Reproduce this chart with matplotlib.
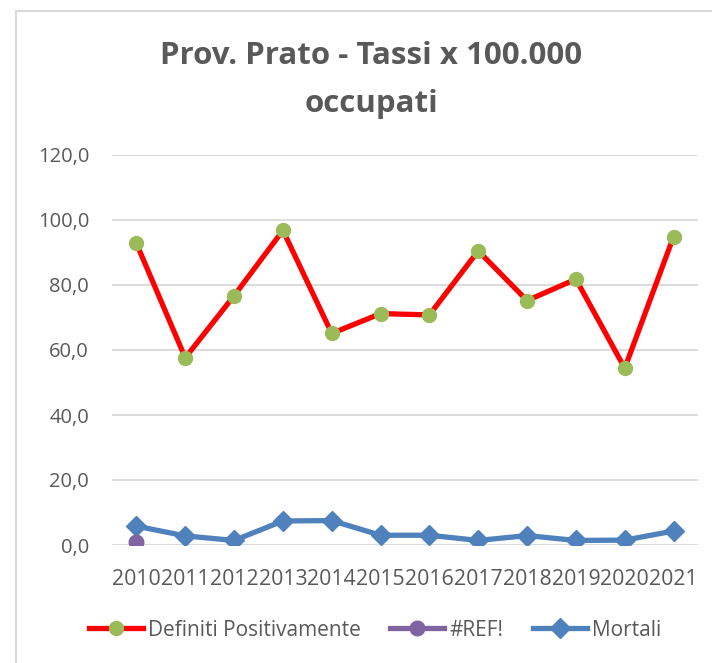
import matplotlib
matplotlib.use("Agg")
import matplotlib.pyplot as plt
from matplotlib.patches import Rectangle

# Dati
anni = ["2010", "2011", "2012", "2013", "2014", "2015", "2016", "2017", "2018", "2019", "2020", "2021"]
definiti_positivamente = [92.8, 57.6, 76.7, 96.8, 65.1, 71.2, 70.8, 90.5, 75.2, 81.8, 54.4, 94.9]
ref_err = [0.8]
mortali = [5.8, 2.8, 1.4, 7.4, 7.5, 3.0, 3.0, 1.4, 2.9, 1.4, 1.5, 4.3]

testo = "#595959"
plt.rcParams["font.family"] = ["Open Sans", "DejaVu Sans"]

fig = plt.figure(figsize=(7.12, 6.63), dpi=100)
ax = fig.add_axes([112 / 712, 118 / 663, 586 / 712, 390 / 663])

# Bordo del grafico
fig.patches.append(Rectangle((16 / 712, -0.1), 1.2, 1.1 - 11 / 663, transform=fig.transFigure,
                             fill=False, edgecolor="#D9D9D9", lw=1.5))

x = list(range(len(anni)))
ax.plot(x, definiti_positivamente, color="#FF0000", lw=3.8, marker="o", markersize=10,
        markerfacecolor="#9BBB59", markeredgecolor="#9BBB59", label="Definiti Positivamente", zorder=3)
ax.plot(x[:len(ref_err)], ref_err, color="#8064A2", lw=3.8, marker="o", markersize=10.5,
        markerfacecolor="#8064A2", markeredgecolor="#8064A2", label="#REF!", zorder=4)
ax.plot(x, mortali, color="#4F81BD", lw=3.8, marker="D", markersize=10.5,
        markerfacecolor="#4F81BD", markeredgecolor="#4F81BD", label="Mortali", zorder=3)

ax.set_xlim(-0.5, len(anni) - 0.5)
ax.set_ylim(0, 120)
ax.set_yticks(range(0, 121, 20))
ax.set_yticklabels([f"{v},0" for v in range(0, 121, 20)])
ax.set_xticks(x)
ax.set_xticklabels(anni)
ax.tick_params(axis="both", length=0, colors=testo)
ax.tick_params(axis="y", pad=16.5, labelsize=14.5)
ax.tick_params(axis="x", pad=17, labelsize=15.3)
ax.grid(axis="y", color="#D9D9D9", lw=1.3)
ax.set_axisbelow(True)
for s in ax.spines.values():
    s.set_visible(False)

fig.text(371 / 712, 1 - 80 / 663, "Prov. Prato - Tassi x 100.000\noccupati", ha="center", va="center",
         fontsize=22.5, fontweight="bold", color=testo, linespacing=1.75)

leg = fig.legend(loc="center", bbox_to_anchor=(375 / 712, 1 - 630 / 663), ncol=3, frameon=False,
                 fontsize=15, handlelength=2.6, columnspacing=1.4, handletextpad=0.25)
for t in leg.get_texts():
    t.set_color(testo)

fig.savefig("out.png", dpi=100)
